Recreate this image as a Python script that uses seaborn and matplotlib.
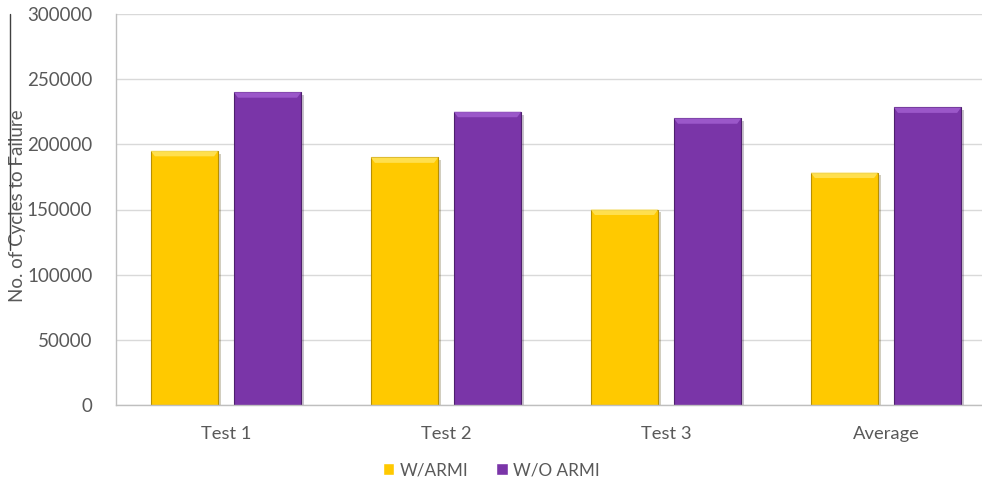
import matplotlib
matplotlib.use("Agg")
import matplotlib.pyplot as plt
import matplotlib.patheffects as pe
from matplotlib.lines import Line2D
from matplotlib.patches import Polygon
import seaborn as sns
import pandas as pd

categories = ["Test 1", "Test 2", "Test 3", "Average"]
series_names = ["W/ARMI", "W/O ARMI"]
with_armi = [195000, 190000, 150000, 178333]
without_armi = [240000, 225000, 220000, 228333]
y_ticks = [0, 50000, 100000, 150000, 200000, 250000, 300000]

colors = {"W/ARMI": "#FFC900", "W/O ARMI": "#7A35A8"}
edge_colors = {"W/ARMI": "#B88F00", "W/O ARMI": "#4E1F6E"}
light_colors = {"W/ARMI": "#FFE45C", "W/O ARMI": "#A15ED0"}

df = pd.DataFrame({
    "category": categories * 2,
    "series": [series_names[0]] * 4 + [series_names[1]] * 4,
    "cycles": with_armi + without_armi,
})

sns.set_theme(style="white")
plt.rcParams["font.family"] = ["Lato", "DejaVu Sans"]
text_color = "#595959"

fig = plt.figure(figsize=(9.82, 4.87), dpi=100)
ax = fig.add_axes([116 / 982, 82 / 487, 1 - 116 / 982, 391 / 487])

sns.barplot(data=df, x="category", y="cycles", hue="series", order=categories,
            hue_order=series_names, palette=colors, width=0.755, gap=0.19,
            saturation=1, ax=ax, legend=True)

# bevel look: darker outline, lighter top facet, soft shadow
n = len(categories)
for i, patch in enumerate(ax.patches[: 2 * n]):
    name = series_names[i // n]
    patch.set_edgecolor(edge_colors[name])
    patch.set_linewidth(0.8)
    patch.set_path_effects([pe.SimplePatchShadow(offset=(2, -2), alpha=0.25),
                            pe.Normal()])
    x0, w, h = patch.get_x(), patch.get_width(), patch.get_height()
    dx = w * 0.06
    dy = 4200
    ax.add_patch(Polygon([(x0, h), (x0 + w, h), (x0 + w - dx, h - dy), (x0 + dx, h - dy)],
                         closed=True, facecolor=light_colors[name], edgecolor="none",
                         alpha=0.85, zorder=patch.get_zorder() + 0.1))

ax.set_xlim(-0.5, -0.5 + 866 / 220)
ax.set_ylim(0, 300000)
ax.set_yticks(y_ticks)
ax.set_yticklabels([str(v) for v in y_ticks])
ax.yaxis.grid(True, color="#D9D9D9", linewidth=1)
ax.set_axisbelow(True)

ax.set_xlabel("")
ax.set_ylabel("No. of Cycles to Failure", fontsize=13.5, color=text_color)
ax.yaxis.set_label_coords((26 - 116) / 866, 0.51)

for s in ["top", "right"]:
    ax.spines[s].set_visible(False)
for s in ["left", "bottom"]:
    ax.spines[s].set_color("#BFBFBF")
    ax.spines[s].set_linewidth(1)

ax.tick_params(axis="y", length=0, labelsize=13.5, labelcolor=text_color, pad=17)
ax.tick_params(axis="x", which="major", length=0, labelsize=13.2, labelcolor=text_color, pad=15)
ax.set_xticks([-0.5, 0.5, 1.5, 2.5], minor=True)
ax.tick_params(axis="x", which="minor", length=5, color="#BFBFBF", width=1, direction="out")

handles, labels = ax.get_legend_handles_labels()
ax.legend_.remove()
fig.legend(handles, labels, loc="center", bbox_to_anchor=(0.5, 17 / 487), ncol=2,
           frameon=False, fontsize=12.3, labelcolor=text_color, handlelength=0.7,
           handleheight=0.7, handletextpad=0.3, columnspacing=1.6)

fig.add_artist(Line2D([10 / 982, 10 / 982], [1 - 14 / 487, 1 - 250 / 487],
                      color="#404040", linewidth=1, transform=fig.transFigure))

fig.savefig("out.png", dpi=100)
